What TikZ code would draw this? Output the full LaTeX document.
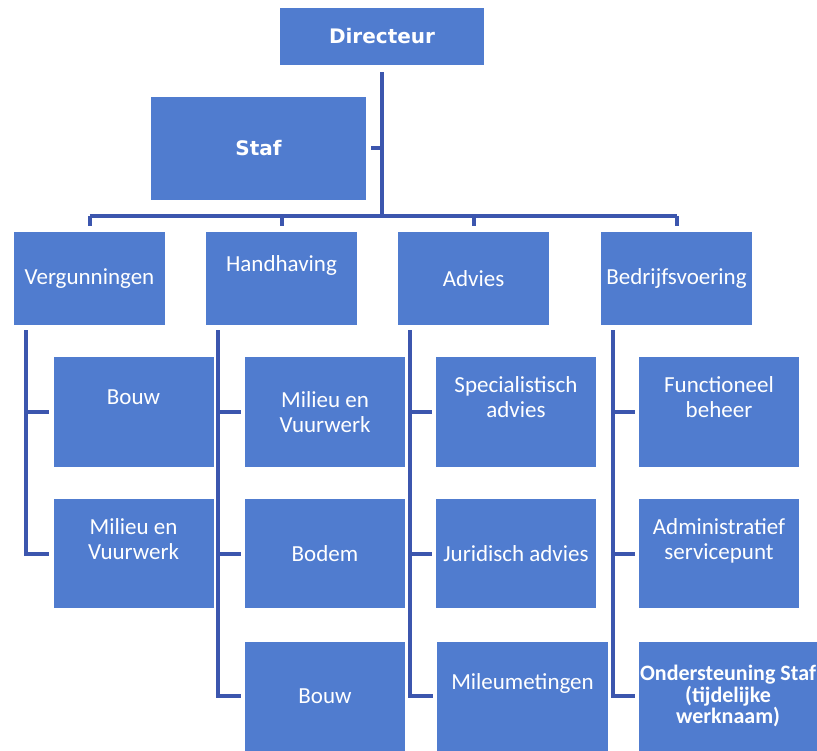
\documentclass[tikz,border=0pt]{standalone}
\usepackage{fontspec}
\setmainfont{Carlito}
\newfontfamily\headfont{DejaVu Sans}
\definecolor{boxblue}{RGB}{80,124,207}
\definecolor{lineblue}{RGB}{60,86,174}
\newcommand{\lift}[1]{\raisebox{12pt}[\height][\depth]{\begin{tabular}{@{}c@{}}#1\end{tabular}}}

\begin{document}
\begin{tikzpicture}[x=1pt,y=-1pt,
    every node/.style={fill=boxblue,text=white,align=center,inner sep=1pt,
                       font=\fontsize{23}{25}\selectfont},
    chef/.style    = {font=\headfont\fontsize{20}{24}\selectfont\bfseries},
    head/.style    = {minimum width=151pt,minimum height=93pt},
    unit/.style    = {minimum width=160pt,minimum height=109pt},
    conn/.style    = {draw=lineblue,line width=4pt},
  ]
  \useasboundingbox (0,0) rectangle (817,751);
  % top
  \node[chef,minimum width=204pt,minimum height=57pt] (dir) at (382,36.5) {Directeur};
  \node[chef,minimum width=215pt,minimum height=103pt] (staf) at (258.5,148.5) {Staf};
  \coordinate (bus) at (382,216);
  % departments
  \node[head] (verg) at (89.5,278.5)  {Vergunningen};
  \node[head] (hand) at (281.5,278.5) {\lift{Handhaving}};
  \node[head] (adv)  at (473.5,278.5) {Advies};
  \node[head] (bedr) at (676.5,278.5) {Bedrijfsvoering};
  % Vergunningen
  \node[unit] (vbouw) at (133.5,412)   {\lift{Bouw}};
  \node[unit] (vmil)  at (133.5,553.5) {\lift{Milieu en\\Vuurwerk}};
  % Handhaving
  \node[unit] (hmil)  at (325,412)   {Milieu en\\Vuurwerk};
  \node[unit] (hbod)  at (325,553.5) {Bodem};
  \node[unit] (hbouw) at (325,696)   {Bouw};
  % Advies
  \node[unit] (aspec) at (516,412)   {\lift{Specialistisch\\advies}};
  \node[unit] (ajur)  at (516,553.5) {Juridisch advies};
  \node[unit,minimum width=171pt] (amet) at (522.5,696) {\lift{Mileumetingen}};
  % Bedrijfsvoering
  \node[unit] (ffun)  at (719,412)   {\lift{Functioneel\\beheer}};
  \node[unit] (fadm)  at (719,553.5) {\lift{Administratief\\servicepunt}};
  \node[unit,minimum width=178pt,font=\fontsize{22}{21.5}\selectfont\bfseries] (fond) at (728,696)
       {Ondersteuning Staf\\(tijdelijke\\werknaam)};

  % connectors
  \draw[conn,shorten <=7pt] (dir) -- (bus);
  \draw[conn,shorten <=5pt] (staf.east) -- (staf.east -| bus);
  \draw[conn] (verg.north |- bus) -- (bedr.north |- bus);
  \foreach \n in {verg,hand,adv,bedr}
    \draw[conn,shorten >=6pt] (\n.north |- bus) -- (\n.north);
  \foreach \p/\c in {verg/vbouw,hand/hmil,hand/hbod,adv/aspec,adv/ajur,bedr/ffun,bedr/fadm}
    \draw[conn] ([xshift=12.5pt]\p.south west |- \c.west) -- ([xshift=-4pt]\c.west);
  \foreach \p/\c in {verg/vmil,hand/hbouw,adv/amet,bedr/fond}
    \draw[conn] ([xshift=12.5pt,yshift=-5pt]\p.south west) |- ([xshift=-4pt]\c.west);
\end{tikzpicture}
\end{document}
